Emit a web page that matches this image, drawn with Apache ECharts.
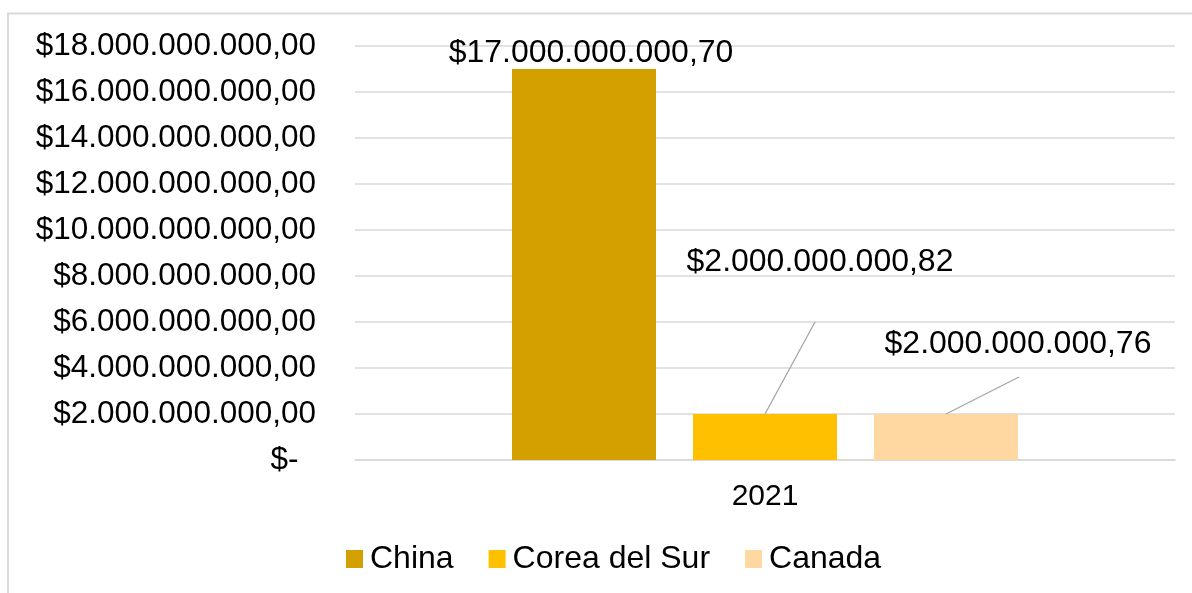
<!DOCTYPE html>
<html>
<head>
<meta charset="utf-8">
<script src="https://cdn.jsdelivr.net/npm/echarts@6/dist/echarts.min.js"></script>
<style>
  html, body { margin: 0; padding: 0; background: #fff; }
  #chart { width: 1192px; height: 593px; }
</style>
</head>
<body>
<div id="chart"></div>
<script>
// datos
const years = ['2021']
const countries = ['China', 'Corea del Sur', 'Canada']
const values = [17000000000.70, 2000000000.82, 2000000000.76]
const colors = ['#D4A000', '#FFC000', '#FED8A0']

const fontFam = '"Liberation Sans", Arial, sans-serif'

// formato contable: $17.000.000.000,70
function money (v) {
  if (v === 0) return '$-  '
  const parts = v.toFixed(2).split('.')
  return '$' + parts[0].replace(/\B(?=(\d{3})+(?!\d))/g, '.') + ',' + parts[1]
}

const barFrac = 0.1756
const gapFrac = 0.257
// desplazamiento de las etiquetas y sus líneas guía (px)
const labelOffsets = [[7, 0], [55, -136], [72, -54]]
const leaderOffsets = [null, [50, -92], [73, -37]]

const chart = echarts.init(document.getElementById('chart'))

const barSeries = countries.map(function (name, i) {
  return {
    name: name,
    type: 'bar',
    barWidth: (barFrac * 100) + '%',
    barGap: (gapFrac * 100) + '%',
    itemStyle: { color: colors[i] },
    label: {
      show: true,
      position: 'top',
      distance: 0,
      offset: labelOffsets[i],
      formatter: function (p) { return money(p.value) },
      color: '#000',
      fontSize: 32,
      fontFamily: fontFam
    },
    data: [values[i]]
  }
})

const leaderData = []
countries.forEach(function (name, i) {
  if (leaderOffsets[i]) leaderData.push([0, values[i], i])
})

const option = {
  animation: false,
  textStyle: { fontFamily: fontFam },
  graphic: [{
    type: 'rect',
    shape: { x: 8, y: 13.5, width: 1300, height: 700 },
    style: { fill: 'none', stroke: '#d9d9d9', lineWidth: 2 },
    silent: true
  }],
  grid: { left: 355, right: 17, top: 46, bottom: 133 },
  legend: {
    data: countries,
    bottom: 13,
    left: 341,
    itemWidth: 17,
    itemHeight: 18,
    itemGap: 35,
    icon: 'rect',
    textStyle: { fontSize: 32, color: '#000', fontFamily: fontFam, padding: [0, 0, 0, 2] }
  },
  xAxis: {
    type: 'category',
    data: years,
    axisLine: { lineStyle: { color: '#d9d9d9', width: 1.5 } },
    axisTick: { show: false },
    axisLabel: { color: '#000', fontSize: 30, fontFamily: fontFam, margin: 22 }
  },
  yAxis: {
    type: 'value',
    min: 0,
    max: 18000000000,
    interval: 2000000000,
    axisLine: { show: false },
    axisTick: { show: false },
    splitLine: { lineStyle: { color: '#d9d9d9', width: 1.5 } },
    axisLabel: {
      color: '#000',
      fontSize: 31.5,
      fontFamily: fontFam,
      margin: 39,
      formatter: money
    }
  },
  series: barSeries.concat([{
    type: 'custom',
    silent: true,
    z: 5,
    renderItem: function (params, api) {
      const c = api.coord([api.value(0), api.value(1)])
      const band = api.size([1, 0])[0]
      const bw = band * barFrac
      const slot = api.value(2)
      const x = c[0] + (slot - (countries.length - 1) / 2) * bw * (1 + gapFrac)
      const off = leaderOffsets[slot]
      return {
        type: 'line',
        shape: { x1: x, y1: c[1], x2: x + off[0], y2: c[1] + off[1] },
        style: { stroke: '#a6a6a6', lineWidth: 1.3 }
      }
    },
    data: leaderData
  }])
}

chart.setOption(option)
</script>
</body>
</html>
